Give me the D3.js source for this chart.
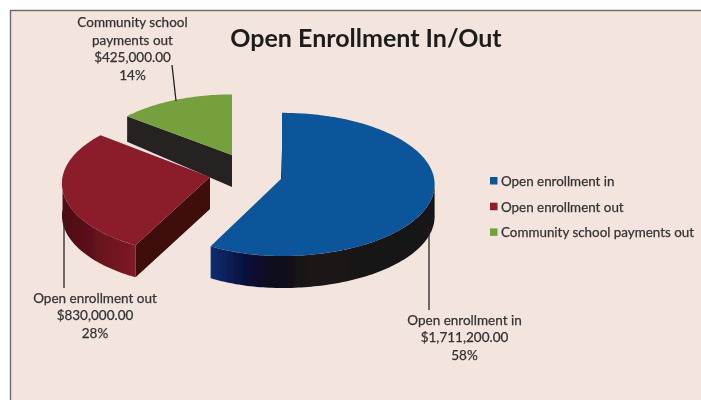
<!DOCTYPE html>
<html><head><meta charset="utf-8">
<script src="https://cdn.jsdelivr.net/npm/d3@7/dist/d3.min.js"></script>
<style>html,body{margin:0;padding:0;background:#fff}svg{display:block}text{font-family:Lato,"Open Sans",sans-serif}</style>
</head><body><div id="c"></div>
<script>
const categories=["Open enrollment in","Open enrollment out","Community school payments out"];
const values=[1711200,830000,425000];
const title="Open Enrollment In/Out";
const topColors=["#11559b","#8b1a2a","#76a03e"];
const W=701,H=400,rx=152,ry=71,k=0.09,depth=32;
const apexX=[282,210,232],apexY=[178,177,155],scaleBy=[1,1,.93];
const leftSqueeze=[.93,.97,1];
const labelLines=[["Open enrollment in"],["Open enrollment out"],["Community school","payments out"]];
const labelPos=[[464.5,324.5],[95,302.5],[132.5,27]];
const leaders=[[[429,228],[429,310]],[[64,222],[64,288]],[[172,65],[176,101]]];
const money=d3.format("$,.2f"),pct=d3.format(".0%");
const total=d3.sum(values);
const color=d3.scaleOrdinal(categories,topColors);
const arcs=d3.pie().sort(null)(values);

const svg=d3.select("#c").append("svg").attr("width",W).attr("height",H);
const defs=svg.append("defs");
defs.append("filter").attr("id","soft").append("feGaussianBlur").attr("stdDeviation",0.35);
function grad(id,x1,x2,stops){
  const g=defs.append("linearGradient").attr("id",id).attr("gradientUnits","userSpaceOnUse")
    .attr("x1",x1).attr("x2",x2).attr("y1",0).attr("y2",0);
  stops.forEach(s=>g.append("stop").attr("offset",s[0]).attr("stop-color",s[1]));
}
grad("blueWall",211,434,[[0,"#0f2e70"],[.14,"#06123f"],[.27,"#0b0a1c"],[.45,"#1c1716"],[1,"#141212"]]);
grad("redWall",62,133,[[0,"#4a0c14"],[.5,"#64121d"],[1,"#7d1a27"]]);

svg.append("rect").attr("x",10.5).attr("y",10.5).attr("width",W).attr("height",H)
  .attr("fill","#f3e4de").attr("stroke","#6b6b6b").attr("stroke-width",1.4);

const g=svg.append("g").attr("filter","url(#soft)");
function pt(i,t,dy=0){
  const s=scaleBy[i]/(1+k*Math.cos(t));
  const sn=Math.sin(t);
  return [apexX[i]+rx*sn*s*(sn<0?leftSqueeze[i]:1), apexY[i]-ry*Math.cos(t)*s+dy];
}
function arcPts(i,a,b,dy=0){
  const n=Math.max(2,Math.ceil(Math.abs(b-a)/0.02));
  return d3.range(n+1).map(j=>pt(i,a+(b-a)*j/n,dy));
}
const line=d3.line();
function closed(p){return line(p)+"Z";}

[2,1,0].forEach(i=>{
  const a=arcs[i].startAngle,b=arcs[i].endAngle;
  const apex=[apexX[i],apexY[i]];
  if(i===2){
    const c=pt(i,a);
    g.append("path").attr("fill","#262424")
      .attr("d",closed([c,apex,[apex[0],apex[1]+depth],[c[0],c[1]+depth*.8]]));
  }
  if(i===1){
    const c=pt(i,a);
    g.append("path").attr("fill","#3f0710")
      .attr("d",closed([apex,c,[c[0],c[1]+depth],[apex[0],apex[1]+depth]]));
    const top=arcPts(i,a,3*Math.PI/2);
    const bot=arcPts(i,3*Math.PI/2,a,depth);
    g.append("path").attr("fill","url(#redWall)").attr("d",closed(top.concat(bot)));
  }
  if(i===0){
    const c0=pt(i,a);
    g.append("path").attr("fill","#0a0d1c")
      .attr("d",closed([c0,[c0[0]+1,c0[1]+4],[apex[0]-1,apex[1]+3],apex]));
    const top=arcPts(i,Math.PI*0.53,b);
    const bot=arcPts(i,b,Math.PI*0.53,depth);
    g.append("path").attr("fill","url(#blueWall)").attr("d",closed(top.concat(bot)));
  }
  g.append("path").attr("fill",color(categories[i]))
    .attr("d",closed([apex].concat(arcPts(i,a,b))));
});

leaders.forEach(l=>g.append("path").attr("d",line(l)).attr("fill","none").attr("stroke","#222").attr("stroke-width",1.3));

categories.forEach((c,i)=>{
  const lines=labelLines[i].concat([money(values[i]),pct(values[i]/total)]);
  const t=g.append("text").attr("text-anchor","middle").attr("font-size",13.5).attr("fill","#333")
    .attr("stroke","#333").attr("stroke-width",0.25);
  lines.forEach((s,j)=>t.append("tspan").attr("x",labelPos[i][0]).attr("y",labelPos[i][1]+j*17.7).text(s));
  g.append("rect").attr("x",490).attr("y",177+i*25.7).attr("width",7.5).attr("height",7.5).attr("fill",color(c));
  g.append("text").attr("x",501).attr("y",186+i*25.7).attr("font-size",13.4).attr("fill","#333")
    .attr("stroke","#333").attr("stroke-width",0.25).text(c);
});
g.append("text").attr("x",366).attr("y",47).attr("text-anchor","middle").attr("font-size",25)
  .attr("font-weight",700).attr("fill","#1c1c1c").text(title);
</script></body></html>
